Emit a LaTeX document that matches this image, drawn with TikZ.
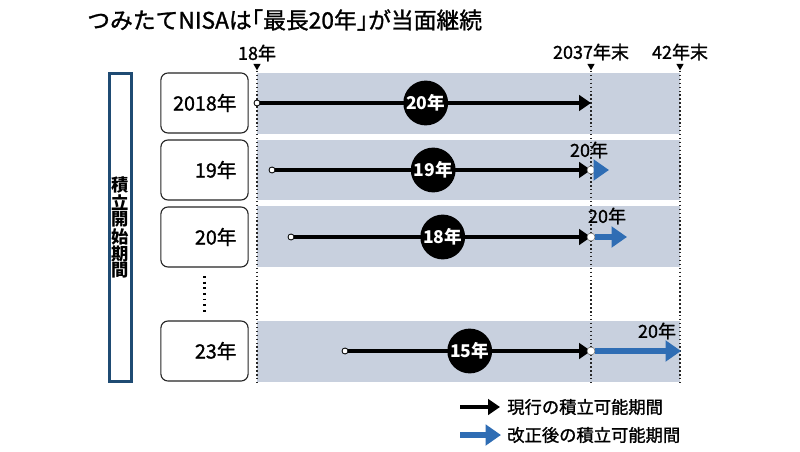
\documentclass[tikz,border=0pt]{standalone}
\usepackage{fontspec}
\setmainfont{Noto Sans CJK JP}[RawFeature={+halt}]
\newfontfamily\heavyjp{Noto Sans CJK JP}[RawFeature={+halt;embolden=1.2}]
\usetikzlibrary{arrows.meta, positioning, shapes.geometric}
\definecolor{bandbg}{HTML}{C8D0DE}
\definecolor{revblue}{HTML}{2F6DB4}
\definecolor{framebl}{HTML}{1F4B73}
\tikzset{
    yearbox/.style={
        rectangle, rounded corners=5pt, draw=black!85, line width=0.8pt, fill=white,
        text width=1.6cm, inner xsep=0.29cm, minimum height=1.5cm, align=right,
        font=\heavyjp\fontsize{14}{16}\selectfont
    },
    sidebox/.style={
        rectangle, draw=framebl, line width=2.2pt, minimum width=0.55cm,
        minimum height=7.7cm, inner sep=0pt, align=center,
        font=\fontsize{12.3}{11.7}\selectfont\bfseries
    },
    ball/.style={
        circle, fill=black, minimum size=1.12cm, inner sep=0pt, text=white,
        font=\fontsize{12.5}{14}\selectfont\bfseries
    },
    startdot/.style={
        circle, draw=black, fill=white, line width=0.6pt, minimum size=0.15cm, inner sep=0pt
    },
    enddot/.style={
        circle, draw=black!60, fill=white, line width=0.4pt, minimum size=0.2cm, inner sep=0pt
    },
    nowarrow/.style={
        -{Triangle[length=8.5pt,width=11pt]}, line width=2.8pt, draw=black
    },
    newarrow/.style={
        -{Triangle[length=11pt,width=14.5pt]}, line width=4.6pt, draw=revblue
    },
    timemark/.style={
        dash pattern=on 1.1pt off 1.7pt, line width=0.9pt, draw=black!85
    },
    marktip/.style={
        isosceles triangle, shape border rotate=-90, isosceles triangle apex angle=60,
        fill=black, inner sep=0pt, minimum size=0.16cm
    },
    timelabel/.style={font=\heavyjp\fontsize{12.8}{14}\selectfont, inner sep=0pt},
    legendtext/.style={font=\heavyjp\fontsize{12.3}{14}\selectfont, anchor=west, inner sep=0pt}
}

\begin{document}
\begin{tikzpicture}[x=0.025cm, y=-0.025cm]

    \useasboundingbox (0,0) rectangle (800,452);

    % title
    \node[anchor=west, inner sep=0pt, font=\heavyjp\fontsize{16.2}{18}\selectfont] (title) at (87,20)
        {つみたてNISAは「最長20年」が当面継続};

    % background bands
    \fill[bandbg] (257,73)  rectangle (680,134);
    \fill[bandbg] (257,140) rectangle (680,200);
    \fill[bandbg] (257,206) rectangle (680,267);
    \fill[bandbg] (257,321) rectangle (680,382);

    % time marks
    \node[timelabel] (m18)  at (257,53) {18年};
    \node[timelabel] (m37)  at (591,52) {2037年末};
    \node[timelabel] (m42)  at (680,52) {42年末};
    \node[marktip] (tip18) at (257,66) {};
    \node[marktip] (tip37) at (591,66) {};
    \node[marktip] (tip42) at (680,66) {};
    \coordinate (bot18) at (257,384);
    \coordinate (bot37) at (591,384);
    \coordinate (bot42) at (680,384);
    \draw[timemark] (tip18.south) -- (bot18);
    \draw[timemark] (tip37.south) -- (bot37);
    \draw[timemark] (tip42.south) -- (bot42);

    % side frame
    \node[sidebox] (period) at (120.5,227.5) {積\\立\\開\\始\\期\\間};

    % start years
    \node[yearbox] (y18) at (204.5,103) {2018年};
    \node[yearbox] (y19) at (204.5,170) {19年};
    \node[yearbox] (y20) at (204.5,237) {20年};
    \node[yearbox] (y23) at (204.5,351) {23年};
    \draw[line width=1.6pt, dash pattern=on 1.4pt off 2.6pt] ([yshift=-6pt]y20.south)
        -- ([yshift=6pt]y23.north);

    % current periods
    \node[startdot] (s1) at (257,103) {};
    \node[startdot] (s2) at (272,170) {};
    \node[startdot] (s3) at (291,237) {};
    \node[startdot] (s4) at (345,351) {};
    \coordinate (t1) at (591,103);
    \coordinate (t2) at (591,170);
    \coordinate (t3) at (591,237);
    \coordinate (t4) at (591,351);

    \draw[nowarrow] (s1) -- node[ball] (n1) {20年} (t1);
    \draw[nowarrow] (s2) -- node[ball] (n2) {19年} (t2);
    \draw[nowarrow] (s3) -- node[ball] (n3) {18年} (t3);
    \draw[nowarrow] (s4) -- node[ball] (n4) {15年} (t4);

    % revised periods
    \node[enddot] (e2) at (t2) {};
    \node[enddot] (e3) at (t3) {};
    \node[enddot] (e4) at (t4) {};
    \coordinate (b2) at (609,170);
    \coordinate (b3) at (627,237);
    \coordinate (b4) at (681,351);
    \draw[newarrow] (e2) -- (b2);
    \draw[newarrow] (e3) -- (b3);
    \draw[newarrow] (e4) -- (b4);
    \node[timelabel] (r2) at (589,150) {20年};
    \node[timelabel] (r3) at (607,216) {20年};
    \node[timelabel] (r4) at (657,331) {20年};

    % legend
    \coordinate (la1) at (460,407);
    \coordinate (lb1) at (500,407);
    \coordinate (la2) at (460,435);
    \coordinate (lb2) at (501,435);
    \draw[nowarrow] (la1) -- (lb1);
    \draw[newarrow] (la2) -- (lb2);
    \node[legendtext] (lg1) at (507,407) {現行の積立可能期間};
    \node[legendtext] (lg2) at (507,435) {改正後の積立可能期間};

\end{tikzpicture}
\end{document}
